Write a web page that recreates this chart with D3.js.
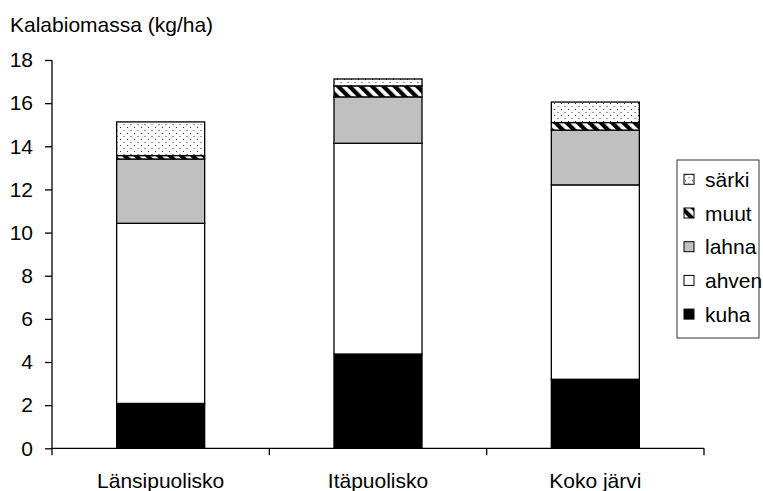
<!DOCTYPE html>
<html>
<head>
<meta charset="utf-8">
<script src="https://cdn.jsdelivr.net/npm/d3@7"></script>
<style>
  body { margin: 0; background: #fff; }
  svg { display: block; font-family: "Liberation Sans", Arial, sans-serif; }
</style>
</head>
<body>
<svg id="chart" width="763" height="491"></svg>
<script>
// categories and series (kg/ha)
const categories = ["Länsipuolisko", "Itäpuolisko", "Koko järvi"];
const seriesNames = ["kuha", "ahven", "lahna", "muut", "särki"];
const kuha  = [2.08, 4.37, 3.20];
const ahven = [8.35, 9.77, 9.01];
const lahna = [2.98, 2.15, 2.54];
const muut  = [0.16, 0.51, 0.35];
const sarki = [1.56, 0.32, 0.95];
const yTicks = [0, 2, 4, 6, 8, 10, 12, 14, 16, 18];
const yTitle = "Kalabiomassa (kg/ha)";

const svg = d3.select("#chart");
const margin = { left: 52, right: 59, top: 60, bottom: 42.7 };
const width = 763, height = 491;
const x0 = margin.left, x1 = width - margin.right;
const y0 = height - margin.bottom, y1 = margin.top;

// table for d3.stack
const table = categories.map((c, i) => ({
    cat: c, kuha: kuha[i], ahven: ahven[i], lahna: lahna[i], muut: muut[i], "särki": sarki[i]
}));
const stacked = d3.stack().keys(seriesNames)(table);

const x = d3.scaleBand().domain(categories).range([x0, x1])
    .paddingInner(0.595).paddingOuter(0.2975);
const y = d3.scaleLinear().domain([0, 18]).range([y0, y1]);

// fill patterns
const defs = svg.append("defs");
const dots = defs.append("pattern").attr("id", "dots")
    .attr("patternUnits", "userSpaceOnUse").attr("width", 7).attr("height", 6);
dots.append("rect").attr("width", 7).attr("height", 6).attr("fill", "#fff");
dots.append("rect").attr("x", 1).attr("y", 1).attr("width", 1).attr("height", 1).attr("fill", "#333");
dots.append("rect").attr("x", 4.5).attr("y", 4).attr("width", 1).attr("height", 1).attr("fill", "#333");

const stripes = defs.append("pattern").attr("id", "stripes")
    .attr("patternUnits", "userSpaceOnUse").attr("width", 8).attr("height", 8)
    .attr("patternTransform", "rotate(-45)");
stripes.append("rect").attr("width", 8).attr("height", 8).attr("fill", "#fff");
stripes.append("rect").attr("width", 4.2).attr("height", 8).attr("fill", "#000");

const fills = {
    kuha: "#000", ahven: "#fff", lahna: "#c0c0c0",
    muut: "url(#stripes)", "särki": "url(#dots)"
};

// bars
svg.append("g").selectAll("g")
    .data(stacked)
    .join("g")
    .attr("fill", d => fills[d.key])
    .selectAll("rect")
    .data(d => d)
    .join("rect")
    .attr("x", d => x(d.data.cat))
    .attr("width", x.bandwidth())
    .attr("y", d => y(d[1]))
    .attr("height", d => y(d[0]) - y(d[1]))
    .attr("stroke", "#000")
    .attr("stroke-width", 1.3);

// y axis
const yAxis = svg.append("g").attr("transform", `translate(${x0},0)`)
    .call(d3.axisLeft(y).tickValues(yTicks).tickSize(7).tickPadding(12).tickFormat(d3.format("d")));
yAxis.select(".domain").attr("d", `M0,${y1}V${y0 + 7}`).attr("stroke", "#000").attr("stroke-width", 1.3);
yAxis.selectAll(".tick line").attr("stroke", "#000").attr("stroke-width", 1.3);
yAxis.selectAll(".tick text").attr("font-size", 21).attr("fill", "#000")
    .attr("font-family", "Liberation Sans, Arial, sans-serif");

// x axis: line, ticks between categories, labels under bars
const step = x.step();
const xAxis = svg.append("g");
xAxis.append("line").attr("x1", x0).attr("x2", x1).attr("y1", y0).attr("y2", y0)
    .attr("stroke", "#000").attr("stroke-width", 1.3);
xAxis.selectAll("line.tk")
    .data(d3.range(1, categories.length + 1))
    .join("line").attr("class", "tk")
    .attr("x1", i => x0 + i * step).attr("x2", i => x0 + i * step)
    .attr("y1", y0).attr("y2", y0 + 7)
    .attr("stroke", "#000").attr("stroke-width", 1.3);
xAxis.selectAll("text")
    .data(categories)
    .join("text")
    .attr("x", d => x(d) + x.bandwidth() / 2)
    .attr("y", 488)
    .attr("text-anchor", "middle")
    .attr("font-size", 21)
    .text(d => d);

// axis title
svg.append("text").attr("x", 10).attr("y", 32).attr("font-size", 21).text(yTitle);

// legend
const legend = svg.append("g").attr("transform", "translate(677,160)");
legend.append("rect").attr("width", 82).attr("height", 178)
    .attr("fill", "#fff").attr("stroke", "#333").attr("stroke-width", 1);
const rows = seriesNames.slice().reverse();
const item = legend.selectAll("g.item")
    .data(rows)
    .join("g").attr("class", "item")
    .attr("transform", (d, i) => `translate(7,${19.3 + i * 33.7})`);
item.append("rect").attr("x", 0).attr("y", -5).attr("width", 10).attr("height", 10)
    .attr("fill", d => fills[d]).attr("stroke", "#000").attr("stroke-width", 1);
item.append("text").attr("x", 21).attr("y", 7.5).attr("font-size", 21).text(d => d);
</script>
</body>
</html>
